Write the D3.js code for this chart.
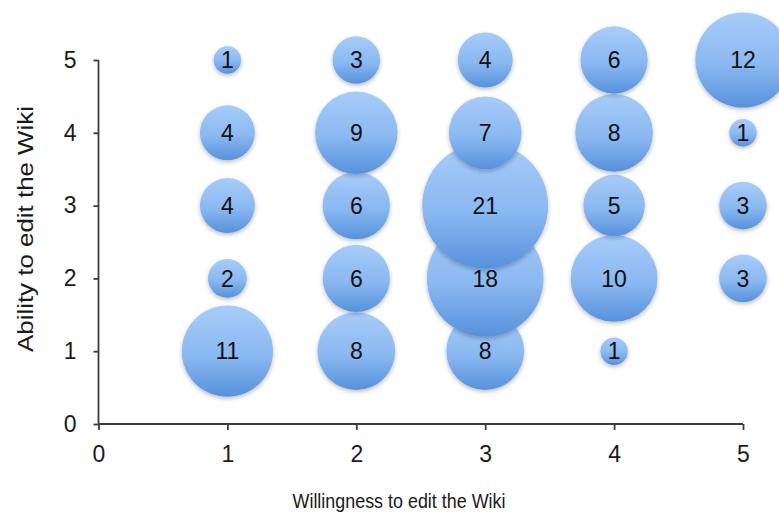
<!DOCTYPE html>
<html>
<head>
<meta charset="utf-8">
<script src="https://cdn.jsdelivr.net/npm/d3@7"></script>
<style>
  html, body { margin: 0; padding: 0; background: #fff; }
  svg { display: block; font-family: "Liberation Sans", Arial, sans-serif; }
</style>
</head>
<body>
<svg id="chart" width="779" height="519"></svg>
<script>
// Survey responses: willingness (x) vs ability (y), bubble = number of respondents
const willingness = [1, 2, 3, 4, 5, 1, 2, 3, 4, 5, 1, 2, 3, 4, 5, 1, 2, 3, 4, 5, 1, 2, 3, 4];
const ability     = [1, 1, 1, 1, 2, 2, 2, 2, 2, 3, 3, 3, 3, 3, 4, 4, 4, 4, 4, 5, 5, 5, 5, 5];
const counts      = [11, 8, 8, 1, 3, 2, 6, 18, 10, 3, 4, 6, 21, 5, 1, 4, 9, 7, 8, 12, 1, 3, 4, 6];
const xTicks = [0, 1, 2, 3, 4, 5];
const yTicks = [0, 1, 2, 3, 4, 5];

const points = counts.map((c, i) => ({ x: willingness[i], y: ability[i], n: c }));

const svg = d3.select("#chart");
const x = d3.scaleLinear().domain([0, 5]).range([98.5, 743]);
const y = d3.scaleLinear().domain([0, 5]).range([424, 60]);
const r = d3.scaleSqrt().domain([0, 21]).range([0, 63]);

const defs = svg.append("defs");
const grad = defs.append("linearGradient")
  .attr("id", "bubbleFill").attr("x1", 0).attr("y1", 0).attr("x2", 0).attr("y2", 1);
grad.append("stop").attr("offset", "0%").attr("stop-color", "#a8ccf9");
grad.append("stop").attr("offset", "55%").attr("stop-color", "#8ab8f1");
grad.append("stop").attr("offset", "100%").attr("stop-color", "#5791dc");

const shadow = defs.append("filter").attr("id", "shadow")
  .attr("x", "-20%").attr("y", "-20%").attr("width", "140%").attr("height", "150%");
shadow.append("feDropShadow")
  .attr("dx", 0).attr("dy", 2).attr("stdDeviation", 2)
  .attr("flood-color", "#000").attr("flood-opacity", 0.25);

// Axes
const axisColor = "#3c3c3c";
const xAxis = svg.append("g").attr("transform", `translate(0,${y(0)})`)
  .call(d3.axisBottom(x).tickValues(xTicks).tickFormat(d3.format("d")).tickSize(6).tickPadding(16));
const yAxis = svg.append("g").attr("transform", `translate(${x(0)},0)`)
  .call(d3.axisLeft(y).tickValues(yTicks).tickFormat(d3.format("d")).tickSize(5).tickPadding(17));
[xAxis, yAxis].forEach(g => {
  g.select(".domain").attr("stroke", axisColor).attr("stroke-width", 1.8);
  g.selectAll(".tick line").attr("stroke", axisColor).attr("stroke-width", 1.8);
  g.selectAll(".tick text").attr("fill", "#1a1a1a")
    .style("font-size", "23px").style("font-family", "'Liberation Sans', Arial, sans-serif");
});
xAxis.select(".domain").attr("d", `M${x(0)},0H${x(5)}`);
yAxis.select(".domain").attr("d", `M0,${y(0)}V${y(5)}`);

// Bubbles, drawn bottom row first so upper rows overlap lower ones
const bubbles = svg.append("g").selectAll("g").data(points).join("g")
  .attr("transform", d => `translate(${x(d.x)},${y(d.y)})`);
bubbles.append("circle")
  .attr("r", d => r(d.n))
  .attr("fill", "url(#bubbleFill)")
  .attr("filter", "url(#shadow)");
bubbles.append("text")
  .attr("text-anchor", "middle")
  .attr("dy", "0.36em")
  .attr("fill", "#111")
  .style("font-size", "23px")
  .text(d => d.n);

// Axis titles
svg.append("text")
  .attr("x", 399).attr("y", 508)
  .attr("text-anchor", "middle").attr("fill", "#1a1a1a")
  .attr("textLength", 213).attr("lengthAdjust", "spacingAndGlyphs")
  .style("font-size", "21px")
  .text("Willingness to edit the Wiki");
svg.append("text")
  .attr("transform", "translate(33,229) rotate(-90)")
  .attr("text-anchor", "middle").attr("fill", "#1a1a1a")
  .attr("textLength", 246).attr("lengthAdjust", "spacingAndGlyphs")
  .style("font-size", "22px")
  .text("Ability to edit the Wiki");
</script>
</body>
</html>
